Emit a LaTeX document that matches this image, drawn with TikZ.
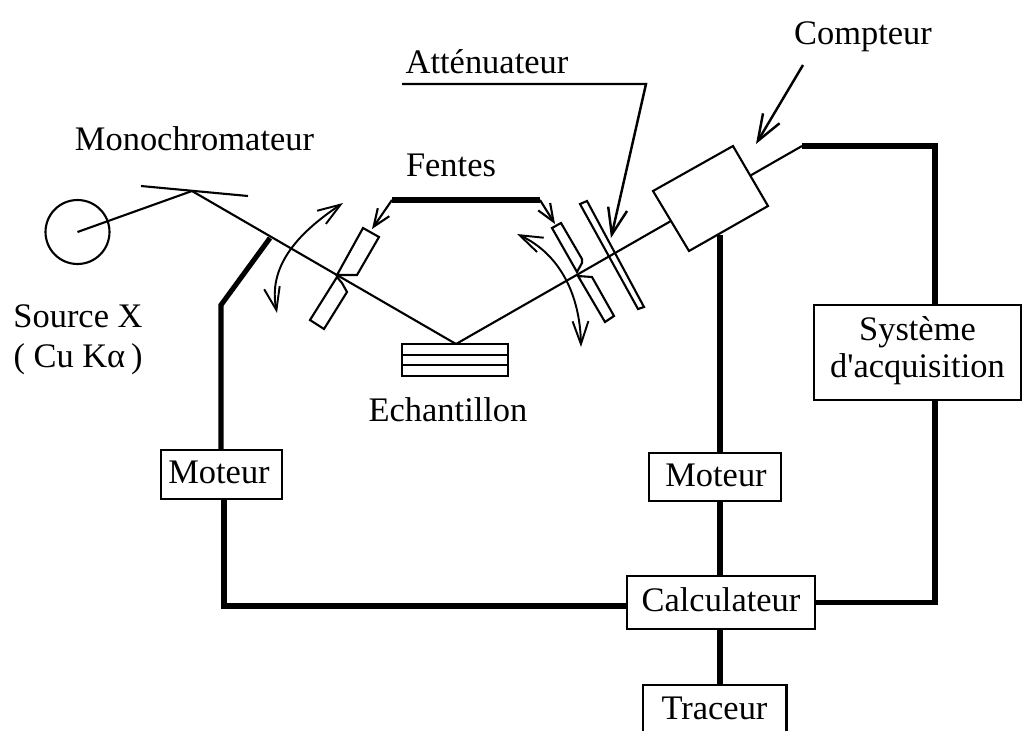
\documentclass[tikz,border=0pt]{standalone}
\usepackage{fontspec}
\setmainfont{Liberation Serif}
\usetikzlibrary{arrows.meta}
\tikzset{
	lbl/.style={inner sep=0pt, align=center},
	boite/.style={draw, line width=1.3pt, fill=white, inner sep=0pt, align=center},
	mince/.style={line width=1.2pt},
	epais/.style={line width=2.9pt},
	barbe/.style={-{Straight Barb[length=15pt, width=11pt]}, line width=1.4pt},
	petite/.style={-{Straight Barb[length=10pt, width=8pt]}, line width=1.2pt},
	barbes/.style={{Straight Barb[length=13pt, width=9pt]}-{Straight Barb[length=13pt, width=9pt]}, line width=1.1pt}
}
\begin{document}
\begin{tikzpicture}[x=0.02cm, y=-0.02cm, font=\fontsize{19.6}{22}\selectfont]
	\useasboundingbox (0,0) rectangle (1025,731);
	% points du trajet
	\path (192,191) coordinate (M) (141,186) coordinate (Ma) (248,196) coordinate (Mb)
		(456,344) coordinate (E) (802,146) coordinate (D) (270,238) coordinate (Pa) (221,305) coordinate (Pb)
		(224,606) coordinate (Pc) (935,146) coordinate (Qa) (720,235) coordinate (T)
		(392,200) coordinate (Fa) (540,200) coordinate (Fb) (372,229) coordinate (Fc) (555,224) coordinate (Fd)
		(402,84) coordinate (Aa) (646,84) coordinate (Ab) (611,238) coordinate (Ac)
		(803,65) coordinate (Ca) (756,144) coordinate (Cb)
		(343,203) coordinate (Ra) (277,313) coordinate (Rb) (517,234) coordinate (Rc) (581,347) coordinate (Rd);
	\node[boite, minimum width=121*0.02cm, minimum height=49*0.02cm] (moteurA) at (221.5,474.5) {};
	\node[boite, minimum width=132*0.02cm, minimum height=48*0.02cm] (moteurB) at (715,477) {};
	\node[boite, minimum width=188*0.02cm, minimum height=53*0.02cm] (calc) at (721,602.5) {};
	\node[minimum width=143*0.02cm, minimum height=46*0.02cm, inner sep=0pt] (traceur) at (714.5,708) {Traceur};
	\node[boite, minimum width=207*0.02cm, minimum height=95*0.02cm] (acq) at (917.5,352.5) {};
	\draw[line width=1.3pt] (traceur.south west)|-(traceur.north east)--(traceur.south east);
	% liaisons
	\draw[epais] (Pa)--(Pb)--(moteurA.north-|Pb);
	\draw[epais] (moteurA.south-|Pc)--(Pc)--(calc.west|-Pc);
	\draw[epais] (D)--(Qa)--(Qa|-acq.north);
	\draw[epais] (Qa|-acq.south)--(Qa|-calc.east)--(calc.east);
	\draw[epais] (T)--(T|-moteurB.north);
	\draw[epais] (T|-moteurB.south)--(T|-calc.north);
	\draw[epais] (T|-calc.south)--(T|-traceur.north);
	\draw[epais] (Fa)--(Fb);
	% fentes et attenuateur
	\draw[mince, fill=white] (337,277)--(310,320)--(324,329)--(347,292)--(342,283)--cycle;
	\draw[mince, fill=white] (337,275)--(363,228)--(379,237)--(357,275)--cycle;
	\draw[mince, fill=white] (552,228)--(561,223)--(582,259)--(582,263)--(577,272)--cycle;
	\draw[mince, fill=white] (578,276)--(592,277)--(614,316)--(605,322)--cycle;
	\draw[mince, fill=white] (580,204)--(587,201)--(644,307)--(638,309)--cycle;
	% source et faisceau
	\node[draw, circle, line width=1.2pt, inner sep=0pt, minimum size=64*0.02cm] (source) at (77.5,232) {};
	\draw[mince] (source.center)--(M);
	\draw[mince] (Ma)--(Mb);
	\draw[mince] (M)--(E)--(D);
	% echantillon et compteur
	\draw[mince, fill=white] (402,344) rectangle (508,376) (402,355)--(508,355) (402,365)--(508,365);
	\draw[mince, fill=white] (733,146)--(768,206)--(689,251)--(653,191)--cycle;
	% fleches
	\draw[petite] (Fa)--(Fc);
	\draw[petite] (Fb)--(Fd);
	\draw[barbe] (Aa)--(Ab)--(Ac);
	\draw[barbe] (Ca)--(Cb);
	\draw[barbes] (Ra) .. controls (295,235) and (268,268) .. (Rb);
	\draw[barbes] (Rc) .. controls (560,254) and (580,295) .. (Rd);
	% textes
	\node[lbl] (txtA) at (219,472) {Moteur};
	\node[lbl] (txtB) at (716,475) {Moteur};
	\node[lbl] (txtC) at (721,600) {Calculateur};
	\node[lbl] (txtD) at (917.5,351) {Système\\[-1pt]d\textquotesingle acquisition};
	\node[lbl] (mono) at (194.5,139) {Monochromateur};
	\node[lbl] (src) at (78,340) {Source X\\[1pt]( Cu Kα\,)};
	\node[lbl] (fen) at (451,165) {Fentes};
	\node[lbl] (att) at (487,62) {Atténuateur};
	\node[lbl] (cpt) at (863,37) {Compteur};
	\node[lbl] (ech) at (448,410) {Echantillon};
\end{tikzpicture}
\end{document}
